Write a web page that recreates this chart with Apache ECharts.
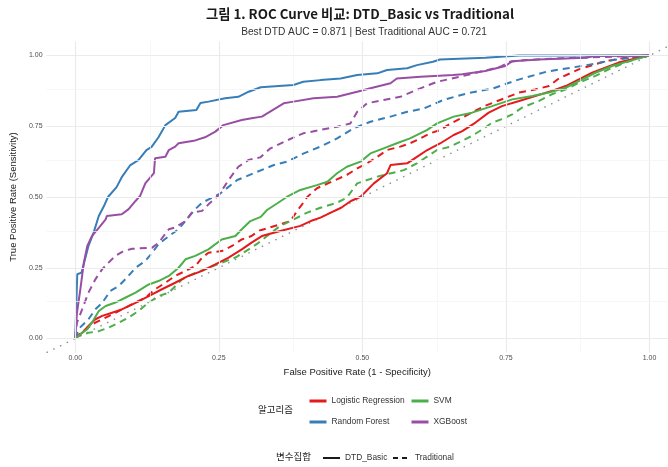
<!DOCTYPE html>
<html><head><meta charset="utf-8">
<script src="https://cdn.jsdelivr.net/npm/echarts@6/dist/echarts.min.js"></script>
<style>html,body{margin:0;padding:0;background:#fff}#c{width:668px;height:467px}</style>
</head><body><div id="c"></div>
<script>
// ---- Data ----
const algorithms = ['Logistic Regression', 'Random Forest', 'SVM', 'XGBoost'];
const varSets = ['DTD_Basic', 'Traditional'];
const majorTicks = [0, 0.25, 0.5, 0.75, 1];
const minorTicks = [0.125, 0.375, 0.625, 0.875];
const refLine = [-0.05, 1.1];

const fprRF_DTD = [0,0.0035,0.011,0.023,0.032,0.041,0.050,0.057,0.072,0.081,0.096,0.110,0.124,0.133,0.145,0.157,0.174,0.180,0.211,0.218,0.232,0.261,0.284,0.302,0.323,0.380,0.397,0.427,0.462,0.491,0.526,0.543,0.578,0.595,0.623,0.635,0.714,0.773,1];
const tprRF_DTD = [0,0.227,0.233,0.327,0.374,0.433,0.468,0.500,0.535,0.570,0.613,0.630,0.666,0.677,0.711,0.754,0.779,0.801,0.807,0.832,0.837,0.849,0.854,0.872,0.888,0.896,0.907,0.913,0.919,0.931,0.937,0.949,0.955,0.966,0.978,0.986,0.992,1.0,1];

const fprXGB_DTD = [0,0.003,0.009,0.015,0.021,0.029,0.041,0.053,0.055,0.081,0.093,0.105,0.113,0.122,0.137,0.139,0.157,0.163,0.174,0.180,0.209,0.226,0.244,0.258,0.290,0.307,0.325,0.363,0.380,0.415,0.456,0.491,0.514,0.549,0.560,0.601,0.658,0.674,0.714,0.749,0.761,0.807,0.888,0.905,1];
const tprXGB_DTD = [0,0.091,0.175,0.268,0.327,0.362,0.391,0.421,0.433,0.439,0.457,0.486,0.504,0.548,0.584,0.637,0.642,0.666,0.678,0.690,0.700,0.711,0.731,0.754,0.772,0.778,0.784,0.831,0.837,0.849,0.854,0.872,0.884,0.902,0.919,0.925,0.931,0.934,0.945,0.963,0.980,0.986,0.992,0.998,1];

const fprXGB_TRD = [0,0.003,0.012,0.023,0.035,0.047,0.058,0.070,0.084,0.099,0.134,0.145,0.163,0.174,0.192,0.203,0.221,0.232,0.250,0.267,0.284,0.302,0.322,0.340,0.369,0.397,0.427,0.456,0.479,0.491,0.508,0.537,0.566,0.601,0.630,0.670,0.740,0.757,0.786,0.844,1];
const tprXGB_TRD = [0,0.056,0.103,0.162,0.209,0.245,0.268,0.292,0.309,0.317,0.321,0.338,0.386,0.392,0.415,0.445,0.451,0.474,0.507,0.560,0.607,0.631,0.640,0.672,0.700,0.725,0.737,0.748,0.760,0.801,0.831,0.843,0.854,0.884,0.907,0.925,0.960,0.978,0.984,0.990,1];

const fprRF_TRD = [0,0.006,0.023,0.035,0.047,0.061,0.076,0.090,0.105,0.122,0.134,0.145,0.163,0.180,0.194,0.209,0.221,0.253,0.282,0.311,0.346,0.369,0.398,0.427,0.456,0.485,0.514,0.549,0.578,0.607,0.641,0.682,0.728,0.769,0.821,0.891,0.937,1];
const tprRF_TRD = [0,0.034,0.068,0.103,0.126,0.168,0.186,0.215,0.250,0.274,0.303,0.333,0.362,0.386,0.421,0.457,0.480,0.513,0.560,0.584,0.613,0.625,0.654,0.678,0.707,0.743,0.766,0.784,0.801,0.813,0.843,0.866,0.884,0.913,0.943,0.966,0.984,1];

const fprSVM_DTD = [0,0.012,0.021,0.029,0.041,0.053,0.070,0.087,0.105,0.128,0.145,0.163,0.180,0.192,0.209,0.232,0.255,0.279,0.290,0.305,0.323,0.334,0.352,0.369,0.392,0.421,0.439,0.456,0.473,0.497,0.514,0.537,0.560,0.583,0.613,0.630,0.659,0.691,0.726,0.761,0.796,0.825,0.854,0.883,0.906,0.935,0.964,0.996,1];
const tprSVM_DTD = [0,0.020,0.033,0.056,0.097,0.115,0.127,0.144,0.162,0.191,0.203,0.221,0.250,0.280,0.292,0.315,0.350,0.362,0.386,0.415,0.430,0.454,0.478,0.501,0.525,0.542,0.554,0.584,0.607,0.625,0.654,0.672,0.690,0.707,0.737,0.760,0.784,0.798,0.821,0.845,0.857,0.869,0.886,0.916,0.939,0.963,0.980,0.998,1];

const fprLR_DTD = [0,0.012,0.023,0.035,0.047,0.064,0.081,0.105,0.128,0.151,0.174,0.197,0.221,0.244,0.267,0.290,0.307,0.325,0.357,0.392,0.410,0.427,0.445,0.463,0.480,0.497,0.520,0.543,0.549,0.578,0.595,0.613,0.636,0.659,0.674,0.697,0.720,0.743,0.773,0.801,0.830,0.854,0.877,0.900,0.923,0.946,0.981,1];
const tprLR_DTD = [0,0.020,0.044,0.068,0.080,0.091,0.103,0.126,0.150,0.174,0.197,0.221,0.239,0.262,0.286,0.315,0.339,0.362,0.380,0.398,0.415,0.427,0.445,0.462,0.486,0.501,0.548,0.584,0.613,0.619,0.642,0.666,0.690,0.719,0.733,0.763,0.798,0.821,0.839,0.857,0.875,0.892,0.916,0.939,0.957,0.975,0.992,1];

const fprLR_TRD = [0,0.003,0.018,0.035,0.053,0.070,0.087,0.105,0.122,0.139,0.157,0.174,0.192,0.209,0.221,0.232,0.255,0.273,0.290,0.307,0.319,0.375,0.386,0.395,0.404,0.421,0.473,0.491,0.508,0.526,0.543,0.566,0.583,0.601,0.618,0.636,0.654,0.679,0.712,0.773,0.801,0.825,0.842,0.877,0.923,0.958,1];
const tprLR_TRD = [0,0.009,0.032,0.056,0.074,0.091,0.109,0.127,0.144,0.174,0.197,0.221,0.239,0.256,0.286,0.303,0.309,0.327,0.350,0.362,0.380,0.415,0.450,0.474,0.500,0.531,0.578,0.601,0.619,0.642,0.666,0.678,0.690,0.707,0.725,0.737,0.760,0.786,0.821,0.869,0.880,0.892,0.919,0.951,0.980,0.992,1];

const fprSVM_TRD = [0,0.006,0.023,0.041,0.058,0.076,0.093,0.110,0.128,0.145,0.163,0.186,0.209,0.232,0.255,0.279,0.302,0.319,0.334,0.357,0.375,0.404,0.427,0.456,0.473,0.491,0.526,0.572,0.595,0.630,0.653,0.691,0.709,0.726,0.743,0.761,0.778,0.807,0.830,0.854,0.877,0.906,0.929,0.958,0.987,1];
const tprSVM_TRD = [0,0.009,0.020,0.026,0.038,0.056,0.074,0.097,0.127,0.150,0.162,0.209,0.232,0.250,0.268,0.286,0.315,0.338,0.362,0.398,0.415,0.445,0.462,0.480,0.498,0.548,0.572,0.595,0.619,0.666,0.678,0.716,0.739,0.763,0.775,0.792,0.816,0.839,0.863,0.880,0.904,0.928,0.951,0.975,0.994,1];

const titleText = '그림 1. ROC Curve 비교: DTD_Basic vs Traditional';
const subtitleText = 'Best DTD AUC = 0.871 | Best Traditional AUC = 0.721';

// ---- Styling ----
const colors = {'Logistic Regression':'#E41A1C','Random Forest':'#377EB8','SVM':'#4DAF4A','XGBoost':'#984EA3'};
const dashPattern = [7, 5];
const FONT = 'Liberation Sans, Arial, sans-serif';

function pairs(xs, ys){ return xs.map((x,i)=>[x, ys[i]]); }

const curves = [
  {alg:'Logistic Regression', set:'Traditional', x:fprLR_TRD, y:tprLR_TRD},
  {alg:'Random Forest', set:'Traditional', x:fprRF_TRD, y:tprRF_TRD},
  {alg:'SVM', set:'Traditional', x:fprSVM_TRD, y:tprSVM_TRD},
  {alg:'XGBoost', set:'Traditional', x:fprXGB_TRD, y:tprXGB_TRD},
  {alg:'Logistic Regression', set:'DTD_Basic', x:fprLR_DTD, y:tprLR_DTD},
  {alg:'Random Forest', set:'DTD_Basic', x:fprRF_DTD, y:tprRF_DTD},
  {alg:'SVM', set:'DTD_Basic', x:fprSVM_DTD, y:tprSVM_DTD},
  {alg:'XGBoost', set:'DTD_Basic', x:fprXGB_DTD, y:tprXGB_DTD}
];

const gridData = [];
majorTicks.forEach(v=>{
  gridData.push({xAxis:v, lineStyle:{color:'#ebebeb', width:1.2, type:'solid'}});
  gridData.push({yAxis:v, lineStyle:{color:'#ebebeb', width:1.2, type:'solid'}});
});
minorTicks.forEach(v=>{
  gridData.push({xAxis:v, lineStyle:{color:'#f3f3f3', width:0.7, type:'solid'}});
  gridData.push({yAxis:v, lineStyle:{color:'#f3f3f3', width:0.7, type:'solid'}});
});

const series = [];
series.push({
  type:'line', name:'__grid', data:[], silent:true, z:0,
  markLine:{silent:true, symbol:['none','none'], label:{show:false}, animation:false, data:gridData}
});
series.push({
  type:'line', name:'__ref', data:refLine.map(v=>[v,v]), symbol:'none', silent:true, z:1,
  lineStyle:{color:'#8c8c8c', width:1.4, type:[1.5,6]}, clip:true
});
curves.forEach(c=>{
  series.push({
    type:'line', name:c.alg, data:pairs(c.x, c.y), symbol:'none', z:2,
    color:colors[c.alg],
    lineStyle:{color:colors[c.alg], width:2, type: c.set==='Traditional' ? dashPattern : 'solid'}
  });
});
// legend-only entries for variable sets
varSets.forEach((s,i)=>{
  series.push({type:'line', name:s, data:[], symbol:'none', color:'#1a1a1a',
    lineStyle:{color:'#1a1a1a', width:1.4, type: i===0 ? 'solid' : [5,4]}});
});

function leg(name, left, top, solidKey){
  const o = {data:[name], left:left, top:top, itemWidth:17, itemHeight:8, itemGap:4, padding:0,
    selectedMode:false, itemStyle:{opacity:0, borderWidth:0},
    textStyle:{fontFamily:FONT, fontSize:8.4, color:'#333'}};
  if (solidKey) o.lineStyle = {type:'solid', width:3};
  return o;
}

const option = {
  animation:false,
  backgroundColor:'#ffffff',
  grid:{left:45.75, right:0, top:41.35, bottom:114.35, containLabel:false},
  xAxis:{type:'value', min:-0.05, max:1.0322,
    name:'False Positive Rate (1 - Specificity)', nameLocation:'middle', nameGap:15,
    nameTextStyle:{fontFamily:FONT, fontSize:9.5, color:'#1a1a1a'},
    axisLine:{show:false}, axisTick:{show:false}, splitLine:{show:false},
    axisLabel:{customValues:majorTicks, formatter:v=>v.toFixed(2), fontFamily:FONT, fontSize:7, color:'#4d4d4d', margin:2}
  },
  yAxis:{type:'value', min:-0.05, max:1.05,
    name:'True Positive Rate (Sensitivity)', nameLocation:'middle', nameGap:17,
    nameTextStyle:{fontFamily:FONT, fontSize:9.5, color:'#1a1a1a'},
    axisLine:{show:false}, axisTick:{show:false}, splitLine:{show:false},
    axisLabel:{customValues:majorTicks, formatter:v=>v.toFixed(2), fontFamily:FONT, fontSize:7, color:'#4d4d4d', margin:4}
  },
  legend:[
    leg('Logistic Regression', 308, 397, true),
    leg('Random Forest', 308, 418, true),
    leg('SVM', 410, 397, true),
    leg('XGBoost', 410, 418, true),
    leg('DTD_Basic', 322, 454, false),
    leg('Traditional', 392, 454, false)
  ],
  graphic:[
    {type:'text', x:360, y:14, style:{text:titleText, textAlign:'center', textVerticalAlign:'middle',
      font:'bold 13.3px "Noto Sans CJK KR", "Liberation Sans", sans-serif', fill:'#1a1a1a'}},
    {type:'text', x:364, y:32, style:{text:subtitleText, textAlign:'center', textVerticalAlign:'middle',
      font:'10.2px "Liberation Sans", Arial, sans-serif', fill:'#333'}},
    {type:'text', left:258, top:405, style:{text:'알고리즘', font:'9.5px "Noto Sans CJK KR"', fill:'#1a1a1a'}},
    {type:'text', left:276, top:452, style:{text:'변수집합', font:'9.5px "Noto Sans CJK KR"', fill:'#1a1a1a'}}
  ],
  series:series
};
const chart = echarts.init(document.getElementById('c'), null, {renderer:'canvas'});
chart.setOption(option);
</script></body></html>
